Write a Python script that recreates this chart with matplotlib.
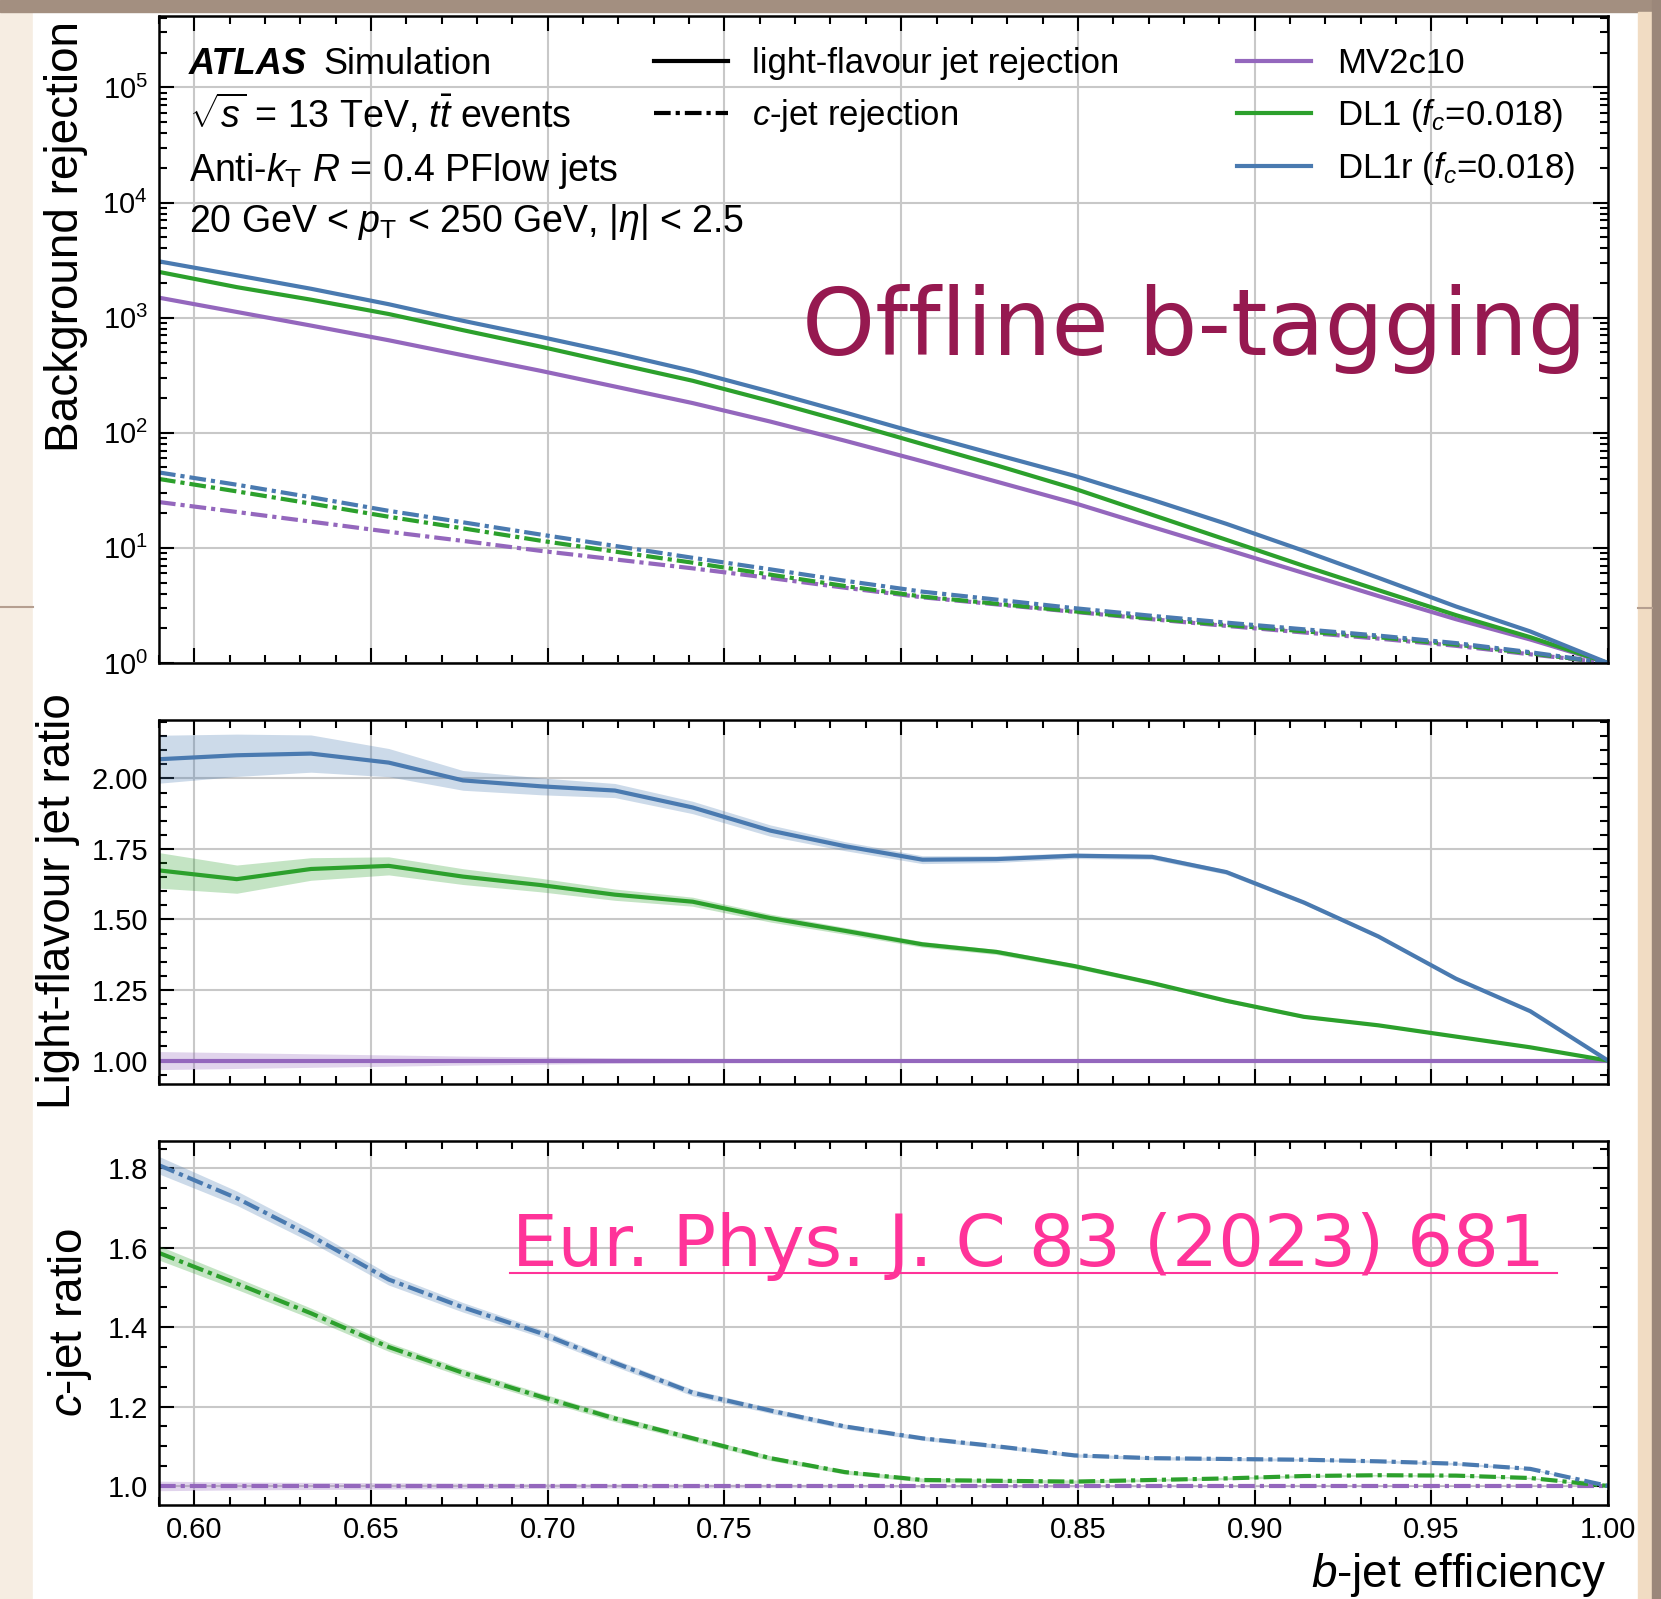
import numpy as np
import matplotlib.pyplot as plt
from matplotlib.patches import Rectangle
from matplotlib.lines import Line2D
from matplotlib.ticker import MultipleLocator, LogLocator, NullFormatter

plt.rcParams['font.family'] = ['Liberation Sans', 'DejaVu Sans']
plt.rcParams['mathtext.fontset'] = 'custom'
plt.rcParams['mathtext.rm'] = 'Liberation Sans'
plt.rcParams['mathtext.it'] = 'Liberation Sans:italic'
plt.rcParams['mathtext.bf'] = 'Liberation Sans:bold'
plt.rcParams['mathtext.sf'] = 'Liberation Sans'

W, H = 1661, 1599

# b-jet efficiency working points
eff = [0.590, 0.612, 0.633, 0.655, 0.676, 0.698, 0.719, 0.741, 0.763, 0.784,
       0.806, 0.827, 0.849, 0.871, 0.892, 0.914, 0.935, 0.957, 0.978, 1.000]

# MV2c10 reference rejections
mv2_light = [1490, 1120, 853, 636, 471, 345, 252, 181, 125, 85.4,
             56.5, 37.6, 24.5, 15.2, 9.7, 6.03, 3.82, 2.40, 1.60, 1.0]
mv2_c = [25.0, 20.5, 16.9, 13.8, 11.5, 9.42, 7.94, 6.64, 5.47, 4.51,
         3.72, 3.23, 2.78, 2.40, 2.10, 1.84, 1.63, 1.41, 1.19, 1.0]

# ratios to MV2c10
dl1_light_ratio = [1.674, 1.643, 1.679, 1.690, 1.652, 1.622, 1.588, 1.563, 1.505, 1.460,
                   1.412, 1.385, 1.335, 1.275, 1.212, 1.155, 1.125, 1.085, 1.047, 1.000]
dl1r_light_ratio = [2.068, 2.082, 2.088, 2.056, 1.993, 1.972, 1.957, 1.897, 1.815, 1.760,
                    1.712, 1.714, 1.726, 1.722, 1.668, 1.560, 1.440, 1.290, 1.175, 1.000]
dl1_c_ratio = [1.587, 1.510, 1.435, 1.350, 1.285, 1.225, 1.170, 1.120, 1.070, 1.035,
               1.015, 1.013, 1.011, 1.015, 1.019, 1.025, 1.027, 1.026, 1.020, 1.000]
dl1r_c_ratio = [1.808, 1.725, 1.630, 1.520, 1.450, 1.385, 1.310, 1.235, 1.190, 1.150,
                1.120, 1.100, 1.077, 1.070, 1.068, 1.066, 1.062, 1.056, 1.043, 1.000]

# statistical uncertainty on the ratios
mv2_light_unc = [0.032, 0.028, 0.024, 0.020, 0.016, 0.013, 0.010, 0.008, 0.007, 0.006,
                 0.005, 0.004, 0.004, 0.003, 0.003, 0.002, 0.002, 0.002, 0.001, 0.0]
dl1_light_unc = [0.063, 0.050, 0.040, 0.032, 0.028, 0.024, 0.020, 0.016, 0.014, 0.012,
                 0.010, 0.009, 0.008, 0.007, 0.006, 0.005, 0.004, 0.004, 0.003, 0.0]
dl1r_light_unc = [0.085, 0.075, 0.066, 0.050, 0.035, 0.030, 0.025, 0.022, 0.020, 0.016,
                  0.014, 0.012, 0.010, 0.009, 0.008, 0.007, 0.006, 0.005, 0.004, 0.0]
mv2_c_unc = [0.012, 0.010, 0.009, 0.008, 0.007, 0.006, 0.005, 0.005, 0.004, 0.004,
             0.003, 0.003, 0.003, 0.002, 0.002, 0.002, 0.002, 0.001, 0.001, 0.0]
dl1_c_unc = [0.018, 0.015, 0.013, 0.011, 0.010, 0.009, 0.008, 0.007, 0.006, 0.005,
             0.005, 0.004, 0.004, 0.003, 0.003, 0.003, 0.002, 0.002, 0.002, 0.0]
dl1r_c_unc = [0.022, 0.018, 0.016, 0.014, 0.012, 0.010, 0.009, 0.008, 0.007, 0.006,
              0.005, 0.005, 0.004, 0.004, 0.004, 0.003, 0.003, 0.003, 0.002, 0.0]

taggers = ['MV2c10', r'DL1 ($f_{c}$=0.018)', r'DL1r ($f_{c}$=0.018)']
colors = ['#9467bd', '#2ca02c', '#4a7ab0']

x = np.array(eff)
light_ratio = [np.ones(len(x)), np.array(dl1_light_ratio), np.array(dl1r_light_ratio)]
c_ratio = [np.ones(len(x)), np.array(dl1_c_ratio), np.array(dl1r_c_ratio)]
light_unc = [np.array(mv2_light_unc), np.array(dl1_light_unc), np.array(dl1r_light_unc)]
c_unc = [np.array(mv2_c_unc), np.array(dl1_c_unc), np.array(dl1r_c_unc)]
light_rej = [np.array(mv2_light) * r for r in light_ratio]
c_rej = [np.array(mv2_c) * r for r in c_ratio]

LW = 3.0
DASHDOT = (0, (4, 1.2, 1, 1.2))


def px_axes(fig, x0, y0, x1, y1):
    return fig.add_axes([x0 / W, 1 - y1 / H, (x1 - x0) / W, (y1 - y0) / H])


def style(ax):
    ax.set_xlim(0.59, 1.0)
    ax.xaxis.set_major_locator(MultipleLocator(0.05))
    ax.xaxis.set_minor_locator(MultipleLocator(0.01))
    ax.tick_params(which='both', direction='in', top=True, right=True,
                   width=1.5, labelsize=21, pad=8)
    ax.tick_params(which='major', length=11)
    ax.tick_params(which='minor', length=5.5)
    for s in ax.spines.values():
        s.set_linewidth(1.8)
    ax.grid(True, which='major', color='#c8c8c8', lw=1.5)
    ax.set_axisbelow(True)


fig = plt.figure(figsize=(W / 100, H / 100), dpi=100)
fig.patch.set_facecolor('#f6ede2')

# slide page behind the plot
fig.add_artist(Rectangle((33 / W, 0), (1638 - 33) / W, 1 - 12 / H,
                         transform=fig.transFigure, color='white', zorder=-10))
fig.add_artist(Rectangle((0, 1 - 12 / H), 1, 12 / H,
                         transform=fig.transFigure, color='#a38f80', zorder=-9))
fig.add_artist(Rectangle((1638 / W, 0), 14 / W, 1 - 12 / H,
                         transform=fig.transFigure, color='#f1dcc3', zorder=-9))
fig.add_artist(Rectangle((1652 / W, 0), 9 / W, 1,
                         transform=fig.transFigure, color='#9b877a', zorder=-9))
fig.add_artist(Line2D([0, 33 / W], [1 - 607 / H] * 2, transform=fig.transFigure,
                      color='#b59f90', lw=1.5, zorder=-8))
fig.add_artist(Line2D([1638 / W, 1652 / W], [1 - 608 / H] * 2, transform=fig.transFigure,
                      color='#b59f90', lw=1.5, zorder=-8))

ax1 = px_axes(fig, 159, 16, 1608, 663)
ax2 = px_axes(fig, 159, 720, 1608, 1084)
ax3 = px_axes(fig, 159, 1141, 1608, 1505)

# rejection curves
for rl, rc, col in zip(light_rej, c_rej, colors):
    ax1.plot(x, rl, color=col, lw=LW)
    ax1.plot(x, rc, color=col, lw=LW, linestyle=DASHDOT)
ax1.set_yscale('log')
ax1.set_ylim(1, 10 ** 5.62)
ax1.yaxis.set_major_locator(LogLocator(base=10, numticks=10))
ax1.yaxis.set_minor_locator(LogLocator(base=10, subs=np.arange(2, 10), numticks=20))
ax1.yaxis.set_minor_formatter(NullFormatter())
style(ax1)
ax1.tick_params(labelbottom=False)

# light-flavour ratio
for r, u, col in zip(light_ratio, light_unc, colors):
    ax2.fill_between(x, r - u, r + u, color=col, alpha=0.28, lw=0)
    ax2.plot(x, r, color=col, lw=LW)
ax2.set_ylim(0.917, 2.207)
ax2.yaxis.set_major_locator(MultipleLocator(0.25))
ax2.yaxis.set_minor_locator(MultipleLocator(0.05))
ax2.yaxis.set_major_formatter(lambda v, p: f'{v:.2f}')
style(ax2)
ax2.tick_params(labelbottom=False)

# c-jet ratio
for r, u, col in zip(c_ratio, c_unc, colors):
    ax3.fill_between(x, r - u, r + u, color=col, alpha=0.28, lw=0)
    ax3.plot(x, r, color=col, lw=LW, linestyle=DASHDOT)
ax3.set_ylim(0.952, 1.869)
ax3.yaxis.set_major_locator(MultipleLocator(0.2))
ax3.yaxis.set_minor_locator(MultipleLocator(0.05))
ax3.yaxis.set_major_formatter(lambda v, p: f'{v:.1f}')
ax3.xaxis.set_major_formatter(lambda v, p: f'{v:.2f}')
style(ax3)

# axis labels
fig.text(66 / W, 1 - 21 / H, 'Background rejection', rotation=90,
         ha='center', va='top', fontsize=33)
fig.text(58 / W, 1 - 901 / H, 'Light-flavour jet ratio', rotation=90,
         ha='center', va='center', fontsize=33)
fig.text(70 / W, 1 - 1323 / H, r'$c$-jet ratio', rotation=90,
         ha='center', va='center', fontsize=33)
fig.text(1606 / W, 1 - 1575 / H, r'$b$-jet efficiency',
         ha='right', va='center', fontsize=33)

# ATLAS label block
fig.text(189 / W, 1 - 65 / H, 'ATLAS', fontsize=26, fontweight='bold',
         fontstyle='italic', va='center')
fig.text(323 / W, 1 - 65 / H, 'Simulation', fontsize=26, va='center')
fs = 27
fig.text(189 / W, 1 - 114 / H, r'$\sqrt{s}$ = 13 TeV, $t\bar{t}$ events',
         fontsize=fs, va='center')
fig.text(189 / W, 1 - 171 / H, r'Anti-$k_{\mathrm{T}}$ $R$ = 0.4 PFlow jets',
         fontsize=fs, va='center')
fig.text(189 / W, 1 - 222 / H,
         r'20 GeV < $p_{\mathrm{T}}$ < 250 GeV, $|\eta|$ < 2.5',
         fontsize=fs, va='center')

# legends
lfs = 25
style_handles = [Line2D([], [], color='black', lw=LW),
                 Line2D([], [], color='black', lw=LW, linestyle=DASHDOT)]
leg1 = ax1.legend(style_handles, ['light-flavour jet rejection', r'$c$-jet rejection'],
                  loc='upper left', bbox_to_anchor=(654 / W, 1 - 47 / H),
                  bbox_transform=fig.transFigure, frameon=False, fontsize=lfs,
                  borderpad=0, borderaxespad=0, handlelength=2.13,
                  handletextpad=0.69, labelspacing=0.48)
ax1.add_artist(leg1)
tag_handles = [Line2D([], [], color=c, lw=LW) for c in colors]
ax1.legend(tag_handles, taggers, loc='upper left',
           bbox_to_anchor=(1237 / W, 1 - 47 / H), bbox_transform=fig.transFigure,
           frameon=False, fontsize=lfs, borderpad=0, borderaxespad=0,
           handlelength=2.13, handletextpad=0.75, labelspacing=0.48)

# annotations
fig.text(802 / W, 1 - 355 / H, 'Offline b-tagging', fontsize=67,
         color='#961950', va='baseline', ha='left', family='DejaVu Sans')
fig.text(512 / W, 1 - 1266 / H, 'Eur. Phys. J. C 83 (2023) 681', fontsize=52,
         color='#ff3399', va='baseline', ha='left', family='DejaVu Sans')
fig.add_artist(Line2D([510 / W, 1557 / W], [1 - 1273 / H] * 2,
                      transform=fig.transFigure, color='#ff3399', lw=1.5))

fig.savefig('out.png', dpi=100, facecolor=fig.get_facecolor())
